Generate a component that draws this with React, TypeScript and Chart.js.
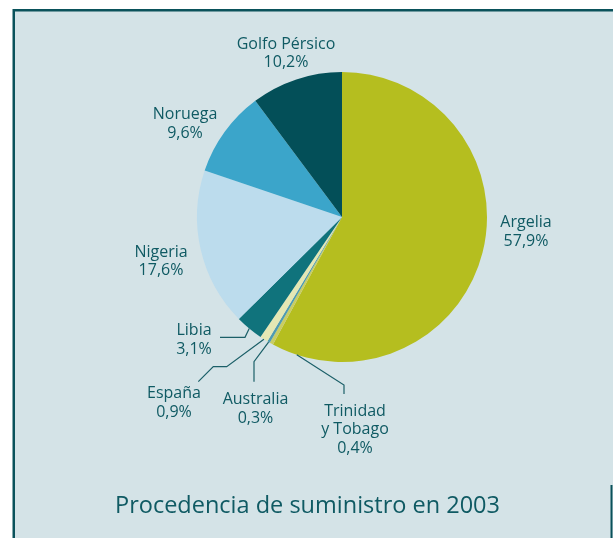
import React, { useEffect, useRef } from "react";
import { Chart, registerables } from "chart.js";

Chart.register(...registerables);

// ---- data ----
const countries = ["Argelia", "Trinidad y Tobago", "Australia", "España", "Libia", "Nigeria", "Noruega", "Golfo Pérsico"];
const nameLines = [["Argelia"], ["Trinidad", "y Tobago"], ["Australia"], ["España"], ["Libia"], ["Nigeria"], ["Noruega"], ["Golfo Pérsico"]];
const shares = [57.9, 0.4, 0.3, 0.9, 3.1, 17.6, 9.6, 10.2];
const sliceColors = ["#b5be1f", "#c9cd63", "#4f9bb0", "#e4e7b4", "#10737c", "#bcdced", "#3ba5ca", "#034f58"];
const titleText = "Procedencia de suministro en 2003";

// ---- layout (offsets from pie centre, px) ----
const labelPos: [number, number][] = [
  [184, 10], [13, 198.7], [-86.5, 187], [-168, 181], [-148, 118], [-181, 39.7], [-157, -98], [-56, -168.5],
];
const leaders: ({ pts: [number, number][]; shift: number } | null)[] = [
  null,
  { pts: [[2, 177], [2, 168]], shift: -11 },
  { pts: [[-88, 164.7], [-88, 144.7]], shift: 0 },
  { pts: [[-143.7, 164.7], [-128.7, 149.7], [-115.3, 149.7]], shift: 0 },
  { pts: [[-122, 120.3], [-97, 120.3]], shift: 0 },
  null, null, null,
];

const TEXT = "#0f5a63";
const FRAME = "#0a525b";
const BG = "#d4e3e7";

const fmt = (v: number) => v.toFixed(1).replace(".", ",") + "%";

const decorPlugin = {
  id: "decor",
  beforeDraw(chart: any) {
    const ctx = chart.ctx;
    ctx.save();
    ctx.fillStyle = BG;
    ctx.fillRect(13, 10, 600, 528);
    ctx.fillStyle = FRAME;
    ctx.fillRect(13, 9, 600, 2.5);
    ctx.fillRect(12.5, 9, 2.5, 529);
    ctx.fillRect(610.5, 485, 2, 53);
    ctx.restore();
  },
  afterDraw(chart: any) {
    const ctx = chart.ctx;
    const meta = chart.getDatasetMeta(0);
    const a0 = meta.data[0];
    const cx = a0.x, cy = a0.y;
    ctx.save();
    // leaders
    ctx.strokeStyle = "#1b5f68";
    ctx.lineWidth = 1.2;
    meta.data.forEach((arc: any, i: number) => {
      const L = leaders[i];
      if (!L) return;
      const mid = (arc.startAngle + arc.endAngle) / 2 + (L.shift * Math.PI) / 180;
      const ex = arc.x + Math.cos(mid) * arc.outerRadius;
      const ey = arc.y + Math.sin(mid) * arc.outerRadius;
      ctx.beginPath();
      L.pts.forEach((p, k) => {
        if (k === 0) ctx.moveTo(cx + p[0], cy + p[1]);
        else ctx.lineTo(cx + p[0], cy + p[1]);
      });
      ctx.lineTo(ex, ey);
      ctx.stroke();
    });
    // labels
    ctx.fillStyle = TEXT;
    ctx.font = '16px "Open Sans"';
    ctx.textAlign = "center";
    ctx.textBaseline = "alphabetic";
    const lh = 18.5;
    countries.forEach((_, i) => {
      const [dx, dy] = labelPos[i];
      const lines = [...nameLines[i], fmt(shares[i])];
      lines.forEach((t, k) => ctx.fillText(t, cx + dx, cy + dy + k * lh));
    });
    // title
    ctx.font = '24.5px "Open Sans"';
    const w = ctx.measureText(titleText).width;
    const target = 385;
    ctx.translate(307.5, 512.7);
    ctx.scale(target / w, 1);
    ctx.fillText(titleText, 0, 0);
    ctx.restore();
  },
};

export default function App() {
  const ref = useRef<HTMLCanvasElement | null>(null);
  useEffect(() => {
    if (!ref.current) return;
    const chart = new Chart(ref.current, {
      type: "pie",
      data: {
        labels: countries,
        datasets: [
          {
            data: shares,
            backgroundColor: sliceColors,
            borderWidth: 0,
            hoverOffset: 0,
          },
        ],
      },
      options: {
        responsive: false,
        animation: false,
        events: [],
        layout: { padding: { left: 197, right: 126, top: 72, bottom: 176 } },
        plugins: { legend: { display: false }, tooltip: { enabled: false }, title: { display: false } },
      },
      plugins: [decorPlugin],
    });
    return () => chart.destroy();
  }, []);
  return (
    <div style={{ position: "fixed", left: 0, top: 0, width: 613, height: 538, background: "#fff" }}>
      <canvas ref={ref} width={613} height={538} style={{ display: "block" }} />
    </div>
  );
}
